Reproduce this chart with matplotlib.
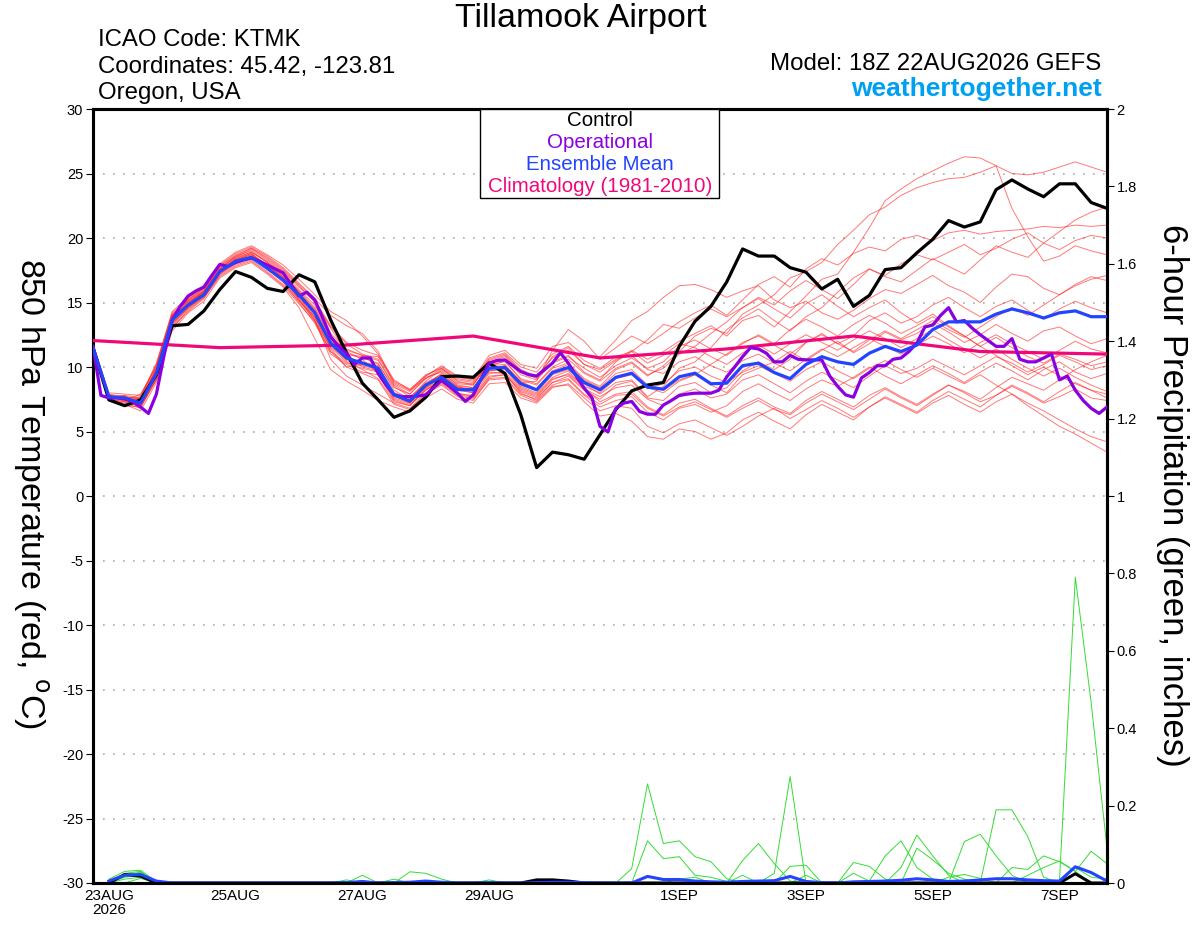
import numpy as np, matplotlib
matplotlib.use('Agg')
import matplotlib.pyplot as plt
from matplotlib.patches import Rectangle

plt.rcParams['font.family'] = ['Liberation Sans', 'DejaVu Sans']
plt.rcParams['axes.unicode_minus'] = False

RED = '#ff2020'
GREEN = '#33dd33'
BLACK = '#000000'
PURPLE = '#8a00e0'
BLUE = '#2244ff'
PINK = '#f0087a'
SITE = '#00a0f0'

# forecast hours (temperature every 6 h from 18Z 22AUG, precip accumulations from 6 h)
t_hours = np.arange(0, 385, 6)
p_hours = np.arange(6, 385, 6)
op_hours = np.arange(0, 385, 3)
clim_hours = [0, 48, 96, 144, 192, 240, 288, 336, 384]

tick_hours = [6, 54, 102, 150, 222, 270, 318, 366]
tick_labels = ['23AUG\n2026', '25AUG', '27AUG', '29AUG', '1SEP', '3SEP', '5SEP', '7SEP']

control = [11.5, 7.45, 7.0, 7.45, 9.4, 13.2, 13.3, 14.35, 16.0, 17.4, 16.95, 16.1, 15.85,
           17.15, 16.6, 13.65, 11.1, 8.75, 7.45, 6.1, 6.6, 7.65, 9.25, 9.3, 9.2, 10.3,
           9.5, 6.3, 2.2, 3.4, 3.2, 2.85, 4.75, 6.7, 8.15, 8.6, 8.8, 11.6, 13.55,
           14.7, 16.6, 19.15, 18.6, 18.6, 17.7, 17.35, 16.05, 16.8, 14.7, 15.55, 17.55, 17.7,
           18.85, 19.9, 21.35, 20.85, 21.25, 23.75, 24.5, 23.8, 23.2, 24.2, 24.2, 22.75, 22.3]

ens_mean = [11.5, 7.7, 7.6, 7.2, 9.5, 13.65, 14.8, 15.6, 17.4, 18.2, 18.5, 17.65, 16.75,
            15.6, 14.2, 11.85, 10.7, 10.3, 9.9, 7.85, 7.35, 8.6, 9.2, 8.25, 8.23, 9.9,
            9.96, 8.7, 8.23, 9.57, 9.96, 8.8, 8.23, 9.2, 9.52, 8.44, 8.28, 9.24, 9.52,
            8.7, 8.75, 10.1, 10.3, 9.57, 9.1, 10.2, 10.8, 10.4, 10.2, 11.07, 11.6, 11.2,
            11.7, 12.9, 13.5, 13.5, 13.5, 14.1, 14.5, 14.2, 13.8, 14.2, 14.35, 13.9, 13.9]

operational = [11.6, 7.8, 7.6, 7.6, 7.55, 7.3, 6.9, 6.4, 7.9, 11.0, 13.65, 14.7, 15.5,
               15.9, 16.2, 17.1, 17.95, 17.8, 18.1, 18.3, 18.45, 18.2, 17.9, 17.6, 17.3, 16.4,
               15.5, 15.8, 15.2, 13.8, 12.35, 11.6, 11.05, 10.2, 10.7, 10.7, 9.5, 8.6, 7.85,
               7.7, 7.7, 7.75, 7.84, 8.4, 8.95, 8.5, 7.97, 7.33, 7.84, 9.1, 10.3, 10.5,
               10.55, 10.1, 9.65, 9.4, 9.3, 9.8, 10.3, 11.1, 10.3, 9.3, 8.36, 7.6, 5.4,
               4.96, 6.8, 7.2, 7.33, 6.55, 6.34, 6.34, 7.05, 7.4, 7.79, 7.9, 7.97, 7.97,
               7.97, 8.2, 9.24, 10.0, 10.8, 11.5, 11.4, 11.07, 10.4, 10.4, 10.9, 10.6, 10.55,
               10.55, 10.55, 9.3, 8.5, 7.84, 7.66, 9.15, 9.57, 10.1, 10.1, 10.6, 10.7, 11.2,
               11.85, 13.1, 13.25, 14.0, 14.6, 13.5, 13.6, 13.0, 12.5, 12.05, 11.6, 11.6, 12.2,
               10.6, 10.4, 10.4, 10.7, 11.0, 9.0, 9.3, 8.2, 7.4, 6.8, 6.4, 6.9]

climatology = [12.05, 11.5, 11.7, 12.4, 10.7, 11.4, 12.4, 11.2, 11.0]

members = [
    [11.8, 7.9, 7.3, 7.6, 10.2, 14.2, 15.2, 16.1, 17.8, 18.7, 19.2, 18.4, 17.5,
     16.3, 15.0, 13.0, 11.2, 10.6, 9.5, 8.0, 7.6, 8.9, 9.8, 9.0, 8.8, 10.4,
     10.8, 9.6, 9.2, 10.8, 11.5, 10.2, 9.6, 10.5, 11.3, 10.6, 11.2, 12.0, 12.6,
     13.2, 12.4, 13.6, 14.0, 13.1, 14.3, 15.5, 16.8, 17.2, 18.9, 20.8, 22.9, 23.8,
     24.6, 25.2, 25.8, 26.3, 26.2, 25.6, 22.3, 20.1, 18.2, 18.6, 19.4, 19.0, 18.7],
    [11.3, 7.5, 7.8, 7.0, 9.0, 13.2, 14.5, 15.4, 17.2, 18.0, 18.4, 18.0, 17.0,
     15.2, 13.6, 11.5, 10.4, 9.8, 9.1, 7.3, 7.0, 8.2, 9.0, 8.2, 8.0, 10.0,
     10.5, 9.0, 8.6, 9.9, 10.3, 9.1, 8.5, 9.8, 10.3, 9.3, 10.1, 11.2, 12.4,
     13.0, 12.6, 14.1, 14.8, 15.6, 16.9, 17.4, 18.1, 19.5, 20.6, 21.8, 22.4, 23.3,
     23.9, 24.3, 24.6, 24.7, 25.1, 25.6, 25.0, 24.9, 25.1, 25.5, 25.9, 25.5, 25.1],
    [11.6, 7.6, 7.0, 7.3, 9.8, 13.9, 14.9, 15.9, 17.6, 18.6, 19.0, 18.1, 17.1,
     15.8, 14.5, 12.3, 11.0, 10.8, 10.2, 8.4, 7.9, 9.2, 9.6, 8.6, 8.4, 10.1,
     10.2, 8.8, 8.9, 11.3, 12.9, 12.0, 10.6, 11.5, 12.4, 11.8, 12.6, 13.5, 14.2,
     14.8, 14.0, 15.2, 16.4, 17.0, 16.2, 17.6, 18.4, 17.9, 18.8, 19.3, 19.0, 19.9,
     20.2, 19.8, 20.4, 20.6, 20.3, 20.5, 20.6, 20.7, 20.9, 20.8, 21.0, 20.9, 21.0],
    [11.4, 7.7, 7.7, 7.5, 9.3, 13.4, 14.6, 15.5, 17.3, 18.4, 18.9, 18.2, 17.3,
     16.0, 14.8, 12.6, 11.4, 10.9, 10.5, 8.5, 7.7, 8.7, 9.4, 8.5, 8.4, 9.7,
     9.9, 8.5, 8.0, 9.4, 9.8, 8.7, 7.9, 8.8, 9.0, 7.7, 8.5, 9.9, 10.4,
     11.5, 12.9, 13.8, 14.5, 13.6, 12.8, 13.9, 14.6, 15.8, 16.9, 17.6, 17.1, 18.0,
     18.7, 18.3, 18.9, 19.5, 18.7, 19.2, 19.9, 20.4, 19.6, 19.1, 19.8, 20.2, 20.0],
    [11.7, 7.8, 7.4, 7.9, 10.0, 14.0, 15.3, 16.2, 17.9, 18.8, 19.3, 18.6, 17.7,
     16.5, 15.3, 14.0, 13.2, 12.6, 11.2, 8.7, 8.1, 9.3, 10.1, 9.3, 9.1, 10.9,
     11.3, 10.2, 9.9, 11.6, 11.9, 10.9, 10.8, 12.1, 13.6, 14.3, 15.4, 16.3, 16.4,
     16.0, 15.4, 15.9, 16.3, 15.2, 14.6, 15.1, 14.2, 13.7, 14.4, 15.3, 16.0, 15.7,
     16.4, 17.1, 16.3, 15.8, 15.0, 16.2, 17.2, 17.0, 16.1, 15.6, 16.4, 17.0, 16.7],
    [11.2, 7.4, 7.2, 6.8, 9.1, 13.1, 14.3, 15.3, 17.1, 17.9, 18.3, 17.4, 16.4,
     15.1, 13.9, 11.4, 10.0, 10.2, 10.0, 7.8, 7.2, 8.4, 8.9, 7.9, 7.6, 9.2,
     9.4, 8.1, 7.6, 8.8, 9.3, 8.2, 7.5, 8.6, 8.9, 7.6, 7.4, 8.5, 8.8,
     8.0, 8.4, 9.7, 10.4, 9.8, 10.6, 11.9, 12.6, 11.8, 12.4, 13.6, 14.2, 13.4,
     13.9, 14.8, 15.4, 14.6, 13.9, 14.7, 15.2, 14.4, 13.7, 14.5, 15.1, 14.6, 14.2],
    [11.5, 7.6, 7.6, 7.1, 9.6, 13.7, 14.7, 15.7, 17.5, 18.3, 18.7, 17.9, 16.8,
     15.4, 13.8, 11.6, 10.6, 10.4, 10.1, 7.7, 7.3, 8.5, 9.3, 8.4, 8.3, 9.8,
     10.1, 8.9, 8.3, 9.7, 10.2, 9.0, 8.4, 9.5, 9.8, 8.6, 8.2, 9.0, 9.4,
     8.6, 8.0, 9.4, 9.9, 10.4, 11.2, 10.5, 11.3, 12.0, 11.1, 11.8, 12.7, 12.1,
     12.6, 13.4, 12.7, 11.9, 12.5, 13.3, 12.6, 12.0, 12.8, 13.1, 12.4, 11.8, 12.2],
    [11.4, 7.5, 7.3, 7.0, 9.4, 13.6, 14.9, 15.8, 17.3, 18.1, 18.5, 17.6, 16.6,
     15.0, 13.4, 11.0, 10.2, 9.6, 9.4, 7.4, 7.0, 8.3, 8.8, 7.9, 7.8, 9.5,
     9.6, 8.3, 7.8, 9.1, 9.4, 8.3, 7.7, 8.4, 8.6, 7.5, 7.0, 7.9, 8.3,
     7.6, 7.9, 9.0, 9.4, 8.7, 8.0, 8.9, 9.6, 9.0, 8.4, 9.3, 10.1, 9.5,
     9.9, 10.6, 10.0, 9.4, 10.1, 10.8, 10.3, 9.6, 10.2, 10.9, 10.4, 9.8, 10.1],
    [11.6, 7.7, 7.4, 7.4, 9.9, 13.8, 15.0, 15.8, 17.6, 18.4, 18.8, 17.7, 16.8,
     15.5, 13.9, 11.8, 10.9, 10.0, 9.7, 7.6, 7.2, 8.4, 9.1, 8.3, 8.0, 9.7,
     9.8, 8.4, 7.9, 9.2, 9.7, 8.4, 7.3, 7.9, 8.1, 6.9, 6.3, 7.2, 7.5,
     6.8, 6.2, 7.0, 7.6, 6.9, 6.4, 7.4, 8.1, 7.5, 6.9, 7.8, 8.4, 7.7,
     7.1, 7.9, 8.6, 8.0, 7.3, 7.8, 8.5, 7.9, 7.2, 7.7, 8.3, 7.6, 7.4],
    [11.3, 7.6, 7.1, 6.6, 8.8, 12.8, 14.2, 15.1, 16.9, 17.7, 18.1, 17.2, 16.2,
     14.6, 12.2, 9.8, 8.9, 8.2, 7.4, 6.9, 6.5, 7.6, 8.3, 7.5, 7.2, 8.7,
     8.8, 7.6, 7.2, 8.4, 8.7, 7.6, 6.6, 7.0, 6.8, 5.4, 4.9, 5.6, 5.9,
     5.3, 4.7, 5.4, 6.2, 6.8, 6.0, 6.7, 7.4, 6.8, 6.1, 6.9, 7.6, 7.0,
     6.4, 7.2, 7.8, 7.1, 6.5, 7.3, 7.9, 7.0, 6.2, 5.4, 4.8, 4.1, 3.4],
    [11.5, 7.8, 7.5, 7.2, 9.7, 13.9, 15.1, 15.9, 17.5, 18.2, 18.6, 17.8, 16.9,
     15.7, 14.4, 12.1, 11.0, 10.7, 10.3, 8.2, 7.5, 8.8, 9.4, 8.5, 8.1, 9.6,
     9.5, 8.0, 7.4, 8.6, 9.0, 7.8, 6.9, 7.4, 7.7, 6.5, 5.9, 6.8, 7.1,
     6.5, 7.0, 8.1, 8.7, 8.0, 7.4, 8.3, 9.0, 8.5, 9.2, 10.0, 9.3, 8.7,
     9.4, 10.1, 9.5, 8.8, 9.6, 10.3, 9.7, 9.0, 9.8, 10.4, 9.6, 9.1, 9.5],
    [11.8, 8.0, 7.9, 7.8, 10.1, 14.1, 15.1, 16.0, 17.7, 18.5, 19.1, 18.3, 17.4,
     16.2, 15.1, 13.1, 11.8, 11.0, 10.6, 8.6, 7.9, 9.1, 9.9, 9.1, 8.9, 10.6,
     11.0, 9.8, 9.3, 10.7, 11.3, 10.2, 9.8, 10.6, 10.9, 9.8, 9.5, 10.4, 10.8,
     10.1, 9.6, 10.5, 11.0, 10.3, 9.7, 10.6, 11.4, 10.8, 11.5, 12.2, 11.6, 11.0,
     11.7, 12.4, 11.8, 11.1, 11.9, 12.5, 11.8, 11.2, 10.6, 11.3, 12.0, 11.4, 11.1],
    [11.4, 7.4, 7.0, 6.9, 9.2, 13.3, 14.6, 15.6, 17.4, 18.3, 18.8, 17.9, 17.0,
     15.9, 14.6, 12.4, 11.3, 10.9, 10.8, 8.8, 8.2, 9.4, 9.9, 8.9, 8.6, 10.3,
     10.6, 9.4, 9.0, 10.3, 10.8, 9.9, 9.2, 10.1, 10.7, 9.9, 10.4, 11.6, 12.1,
     11.4, 10.9, 11.8, 12.5, 11.8, 12.9, 13.7, 13.1, 12.4, 13.3, 14.0, 13.4, 12.6,
     13.2, 13.9, 13.1, 12.4, 11.6, 10.9, 10.1, 9.4, 10.0, 9.3, 8.7, 8.2, 7.9],
    [11.6, 7.7, 7.6, 7.3, 9.5, 13.5, 14.8, 15.6, 17.2, 18.1, 18.6, 17.7, 16.7,
     15.3, 13.7, 10.6, 9.3, 8.6, 7.9, 7.2, 6.8, 8.0, 8.7, 7.8, 7.5, 9.0,
     9.1, 7.8, 7.3, 8.5, 8.6, 7.3, 6.2, 6.4, 5.8, 4.6, 4.4, 5.2, 5.0,
     4.4, 4.9, 5.9, 6.5, 5.8, 5.2, 6.3, 7.1, 6.5, 5.9, 6.9, 7.7, 7.1,
     6.5, 7.4, 8.1, 7.5, 6.9, 7.8, 8.6, 8.0, 7.3, 8.1, 8.8, 8.2, 7.6],
    [11.7, 7.9, 7.7, 7.5, 9.8, 13.8, 15.0, 15.9, 17.6, 18.5, 18.9, 18.1, 17.2,
     15.8, 14.3, 12.0, 10.8, 10.3, 9.8, 7.9, 7.4, 8.6, 9.5, 8.7, 8.6, 10.5,
     10.9, 9.7, 9.1, 10.4, 10.9, 9.6, 9.0, 10.4, 11.2, 12.1, 13.3, 13.0, 13.8,
     14.5, 13.9, 14.6, 15.3, 14.5, 13.8, 14.9, 15.6, 14.7, 13.9, 14.6, 15.2, 14.2,
     13.4, 14.1, 13.2, 12.4, 11.6, 12.3, 11.5, 10.8, 10.3, 11.0, 10.6, 10.1, 10.4],
    [11.5, 7.6, 7.5, 7.7, 10.3, 14.3, 15.4, 16.3, 18.0, 18.9, 19.4, 18.7, 17.9,
     16.8, 15.6, 14.3, 13.6, 12.4, 11.0, 9.0, 8.2, 9.1, 9.7, 8.8, 8.7, 10.2,
     10.4, 9.1, 8.7, 10.0, 10.6, 9.5, 8.9, 9.9, 10.4, 9.4, 9.9, 11.0, 11.6,
     12.6, 13.5, 14.6, 15.4, 14.8, 15.9, 16.7, 16.0, 15.3, 16.4, 17.6, 17.0, 16.6,
     17.5, 18.4, 17.8, 17.2, 18.3, 19.4, 18.9, 18.5, 19.6, 20.5, 21.4, 22.0, 22.4],
    [11.3, 7.5, 7.3, 6.9, 9.0, 13.0, 14.4, 15.4, 17.0, 17.8, 18.2, 17.3, 16.3,
     14.9, 13.5, 11.2, 10.3, 9.9, 9.6, 7.5, 7.1, 8.2, 8.9, 8.0, 7.7, 9.3,
     9.4, 8.2, 7.7, 9.0, 9.5, 8.5, 8.0, 9.1, 9.4, 8.3, 8.7, 9.7, 10.0,
     9.3, 8.8, 9.6, 10.1, 9.5, 8.9, 9.8, 10.4, 9.7, 9.1, 9.9, 10.5, 9.8,
     9.2, 9.9, 9.3, 8.7, 9.4, 8.6, 7.9, 7.2, 6.6, 5.9, 5.2, 4.6, 4.2],
    [11.6, 7.8, 7.6, 7.4, 9.6, 13.6, 14.8, 15.8, 17.5, 18.3, 18.7, 17.9, 16.9,
     15.6, 14.1, 11.7, 10.5, 10.1, 9.8, 7.8, 7.3, 8.5, 9.2, 8.4, 8.3, 9.9,
     10.1, 8.8, 8.2, 9.5, 10.0, 8.9, 8.3, 9.2, 9.5, 8.4, 8.0, 8.9, 9.4,
     10.2, 11.0, 11.9, 12.4, 11.7, 11.0, 11.9, 12.5, 11.8, 11.2, 12.1, 12.8, 12.2,
     12.9, 13.6, 12.9, 12.3, 13.1, 13.9, 14.6, 14.0, 14.8, 15.6, 16.3, 16.8, 17.1],
    [11.4, 7.6, 7.4, 7.1, 9.3, 13.4, 14.6, 15.5, 17.3, 18.1, 18.5, 17.6, 16.6,
     15.2, 13.6, 11.2, 10.0, 9.5, 9.0, 7.1, 6.7, 7.9, 8.6, 7.7, 7.4, 9.1,
     9.2, 7.9, 7.5, 8.8, 9.1, 7.9, 7.1, 7.8, 7.9, 6.8, 6.2, 6.9, 7.3,
     6.7, 6.1, 6.8, 7.4, 6.7, 6.3, 7.2, 7.9, 7.3, 6.7, 7.5, 8.3, 7.6,
     7.0, 7.8, 8.6, 8.1, 7.5, 8.4, 9.2, 8.7, 8.2, 9.0, 9.8, 10.4, 10.9],
    [11.5, 7.7, 7.8, 7.6, 9.9, 14.0, 15.2, 16.1, 17.8, 18.6, 19.2, 18.5, 17.6,
     16.4, 15.2, 13.2, 11.9, 11.3, 10.9, 8.9, 8.3, 9.3, 10.0, 9.2, 9.0, 10.7,
     11.1, 10.0, 9.6, 11.0, 11.6, 10.5, 9.9, 10.8, 11.2, 10.3, 10.9, 11.8, 11.5,
     10.8, 10.2, 11.1, 11.7, 11.0, 11.8, 12.5, 11.9, 11.3, 12.1, 12.8, 12.2, 11.5,
     12.2, 12.9, 12.1, 11.4, 10.7, 11.4, 10.6, 9.9, 9.3, 9.9, 9.2, 8.6, 8.1],
]

# 6-hour precipitation (inches), members
precip_members = [
    [0.01, 0.03, 0.033, 0.004, 0, 0, 0, 0, 0, 0, 0, 0, 0, 0, 0, 0,
     0, 0, 0, 0, 0, 0, 0, 0, 0, 0, 0, 0, 0, 0, 0, 0,
     0, 0.037, 0.256, 0.102, 0.109, 0.068, 0.055, 0.011, 0, 0, 0, 0, 0, 0, 0, 0,
     0, 0, 0, 0, 0, 0, 0, 0, 0, 0, 0, 0, 0, 0, 0, 0],
    [0, 0.025, 0.03, 0, 0, 0, 0, 0, 0, 0, 0, 0, 0, 0, 0, 0,
     0.02, 0, 0, 0, 0, 0, 0, 0, 0, 0, 0, 0, 0, 0, 0, 0,
     0, 0, 0.109, 0.063, 0.068, 0.02, 0.015, 0.004, 0, 0, 0, 0, 0, 0, 0, 0,
     0, 0, 0, 0, 0, 0, 0, 0, 0, 0, 0, 0, 0, 0, 0, 0],
    [0, 0.02, 0.028, 0, 0, 0, 0, 0, 0, 0, 0, 0, 0, 0, 0, 0,
     0, 0, 0, 0.029, 0.025, 0.01, 0, 0, 0, 0, 0, 0, 0, 0, 0, 0,
     0, 0, 0, 0, 0, 0, 0, 0, 0.058, 0.102, 0.05, 0.005, 0, 0, 0, 0,
     0, 0, 0, 0, 0, 0, 0, 0, 0, 0, 0, 0, 0, 0, 0, 0],
    [0, 0.015, 0.02, 0, 0, 0, 0, 0, 0, 0, 0, 0, 0, 0, 0, 0,
     0, 0, 0, 0, 0, 0, 0, 0, 0, 0, 0, 0, 0, 0, 0, 0,
     0, 0, 0, 0, 0, 0, 0, 0, 0, 0, 0.025, 0.275, 0, 0, 0, 0,
     0, 0, 0, 0, 0, 0, 0, 0, 0, 0, 0, 0, 0, 0, 0, 0],
    [0, 0, 0.012, 0, 0, 0, 0, 0, 0, 0, 0, 0, 0, 0, 0, 0,
     0, 0, 0, 0, 0, 0, 0, 0, 0, 0, 0, 0, 0, 0, 0, 0,
     0, 0, 0, 0, 0, 0, 0, 0, 0, 0, 0, 0.043, 0.046, 0, 0, 0,
     0, 0, 0, 0, 0, 0, 0, 0, 0, 0, 0, 0, 0, 0, 0, 0],
    [0, 0.01, 0.015, 0, 0, 0, 0, 0, 0, 0, 0, 0, 0, 0, 0, 0,
     0, 0, 0, 0, 0, 0, 0, 0, 0, 0, 0, 0, 0, 0, 0, 0,
     0, 0, 0, 0, 0, 0, 0, 0, 0.02, 0, 0, 0, 0, 0, 0, 0.053,
     0.043, 0.01, 0, 0, 0, 0, 0, 0, 0, 0, 0, 0, 0, 0, 0, 0],
    [0, 0, 0, 0, 0, 0, 0, 0, 0, 0, 0, 0, 0, 0, 0, 0,
     0, 0, 0, 0, 0, 0, 0, 0, 0, 0, 0, 0, 0, 0, 0, 0,
     0, 0, 0, 0, 0, 0, 0, 0, 0, 0, 0, 0, 0, 0, 0, 0.025,
     0.005, 0.07, 0.109, 0.04, 0.01, 0, 0, 0, 0, 0, 0, 0, 0, 0, 0, 0],
    [0, 0, 0, 0, 0, 0, 0, 0, 0, 0, 0, 0, 0, 0, 0, 0.008,
     0, 0, 0.01, 0, 0, 0, 0, 0, 0, 0, 0, 0, 0, 0, 0, 0,
     0, 0, 0, 0, 0, 0, 0, 0, 0, 0, 0, 0, 0, 0, 0, 0,
     0, 0, 0.04, 0.124, 0.07, 0.02, 0, 0, 0, 0, 0, 0, 0, 0, 0, 0],
    [0, 0, 0, 0, 0, 0, 0, 0, 0, 0, 0, 0, 0, 0, 0, 0,
     0, 0, 0, 0, 0, 0, 0, 0, 0.008, 0, 0, 0, 0, 0, 0, 0,
     0, 0, 0, 0, 0, 0, 0, 0, 0, 0, 0, 0, 0, 0, 0, 0,
     0, 0, 0, 0.09, 0.06, 0.025, 0.01, 0, 0, 0, 0, 0, 0, 0, 0, 0],
    [0, 0, 0, 0, 0, 0, 0, 0, 0, 0, 0, 0, 0, 0, 0, 0,
     0, 0, 0, 0, 0, 0, 0, 0, 0, 0, 0, 0, 0, 0, 0, 0,
     0, 0, 0, 0, 0, 0, 0, 0, 0, 0, 0, 0, 0, 0, 0, 0,
     0, 0, 0, 0, 0, 0, 0.107, 0.126, 0.07, 0.02, 0, 0, 0, 0, 0, 0],
    [0, 0, 0, 0, 0, 0, 0, 0, 0, 0, 0, 0, 0, 0, 0, 0,
     0, 0, 0, 0, 0, 0, 0, 0, 0, 0, 0, 0, 0, 0, 0, 0,
     0, 0, 0, 0, 0, 0, 0, 0, 0, 0, 0, 0, 0, 0, 0, 0,
     0, 0, 0, 0, 0, 0, 0, 0, 0.189, 0.189, 0.12, 0.015, 0, 0, 0, 0],
    [0, 0, 0, 0, 0, 0, 0, 0, 0, 0, 0, 0, 0, 0, 0, 0,
     0, 0, 0, 0, 0, 0, 0, 0, 0, 0, 0, 0, 0, 0, 0, 0,
     0, 0, 0, 0, 0, 0, 0, 0, 0, 0, 0, 0, 0, 0, 0, 0,
     0, 0, 0, 0, 0, 0, 0, 0, 0, 0.04, 0.035, 0.07, 0.055, 0.03, 0, 0],
    [0, 0, 0, 0, 0, 0, 0, 0, 0, 0, 0, 0, 0, 0, 0, 0,
     0, 0, 0, 0, 0, 0, 0, 0, 0, 0, 0, 0, 0, 0, 0, 0,
     0, 0, 0, 0, 0, 0, 0, 0, 0, 0, 0, 0, 0, 0, 0, 0,
     0, 0, 0, 0, 0, 0, 0, 0, 0, 0, 0.02, 0.04, 0.057, 0.03, 0.082, 0.05],
    [0, 0, 0, 0, 0, 0, 0, 0, 0, 0, 0, 0, 0, 0, 0, 0,
     0, 0, 0, 0, 0, 0, 0, 0, 0, 0, 0, 0, 0, 0, 0, 0,
     0, 0, 0, 0, 0, 0, 0, 0, 0, 0, 0, 0, 0, 0, 0, 0,
     0, 0, 0, 0, 0, 0, 0, 0, 0, 0, 0, 0, 0.005, 0.79, 0.466, 0.09],
    [0, 0, 0, 0, 0, 0, 0, 0, 0, 0, 0, 0, 0, 0, 0, 0,
     0, 0, 0, 0, 0, 0, 0, 0, 0, 0, 0, 0.006, 0.01, 0, 0, 0,
     0, 0, 0, 0, 0, 0, 0, 0, 0, 0, 0, 0, 0, 0, 0, 0,
     0, 0, 0, 0, 0, 0, 0, 0, 0, 0, 0, 0, 0, 0.04, 0.015, 0.01],
    [0, 0, 0, 0, 0, 0, 0, 0, 0, 0, 0, 0, 0, 0, 0, 0,
     0, 0, 0, 0, 0, 0, 0, 0, 0, 0, 0, 0, 0, 0, 0, 0,
     0, 0, 0, 0, 0.01, 0.015, 0, 0, 0, 0, 0, 0, 0.02, 0, 0, 0,
     0, 0, 0, 0, 0, 0.015, 0.022, 0.012, 0, 0, 0, 0, 0, 0, 0, 0],
]

precip_mean = [0.005, 0.02, 0.022, 0.005, 0, 0, 0, 0, 0, 0, 0, 0, 0, 0, 0, 0.001,
               0.004, 0, 0.001, 0.002, 0.005, 0.002, 0, 0, 0.001, 0, 0, 0.001, 0.002, 0.002, 0.001, 0,
               0, 0, 0.017, 0.009, 0.009, 0.005, 0.003, 0.002, 0.004, 0.005, 0.006, 0.017, 0.004, 0.001, 0, 0.003,
               0.004, 0.005, 0.007, 0.011, 0.008, 0.004, 0.005, 0.008, 0.011, 0.011, 0.008, 0.006, 0.005, 0.042, 0.027, 0.005]

precip_control = [0, 0.022, 0.018, 0, 0, 0, 0, 0, 0, 0, 0, 0, 0, 0, 0, 0,
                  0, 0, 0, 0, 0, 0, 0, 0, 0, 0, 0, 0.008, 0.008, 0.005, 0, 0,
                  0, 0, 0, 0, 0, 0, 0, 0, 0, 0, 0, 0, 0, 0, 0, 0,
                  0, 0, 0, 0, 0, 0, 0, 0, 0, 0, 0, 0, 0, 0.024, 0, 0]

fig = plt.figure(figsize=(12, 9.27), dpi=100)
ax = fig.add_axes([93 / 1200, 1 - 883 / 927, 1014 / 1200, 774 / 927])
ax2 = ax.twinx()

for t in range(-25, 30, 5):
    ax.axhline(t, color='#aaaaaa', lw=1.2, ls=(0, (1, 5)), zorder=1)

for m in members:
    ax.plot(t_hours, m, color=RED, lw=0.7, alpha=0.6, zorder=2)

for p in precip_members:
    ax2.plot(p_hours, p, color=GREEN, lw=0.7, zorder=2)
ax2.plot(p_hours, precip_control, color=BLACK, lw=2.2, zorder=3)
ax2.plot(p_hours, precip_mean, color=BLUE, lw=2.2, zorder=4)

ax.plot(clim_hours, climatology, color=PINK, lw=2.3, zorder=3)
ax.plot(t_hours, control, color=BLACK, lw=2.3, zorder=4)
ax.plot(op_hours, operational, color=PURPLE, lw=2.3, zorder=5)
ax.plot(t_hours, ens_mean, color=BLUE, lw=2.3, zorder=6)

# temperature lines sit above the precip axes
ax.set_zorder(ax2.get_zorder() + 1)
ax.patch.set_visible(False)

ax.set_xlim(0, 384)
ax.set_ylim(-30, 30)
ax2.set_ylim(0, 2)
ax.set_yticks(range(-30, 31, 5))
ax2.set_yticks(np.arange(0, 2.01, 0.2))
ax2.set_yticklabels(['0', '0.2', '0.4', '0.6', '0.8', '1', '1.2', '1.4', '1.6', '1.8', '2'])
ax.set_xticks(tick_hours)
ax.set_xticklabels(tick_labels, fontsize=11, linespacing=1.05)
ax.tick_params(axis='x', length=0, pad=4)
ax.tick_params(axis='y', labelsize=10.5, length=5, width=0.8, pad=2, direction='out')
ax2.tick_params(axis='y', labelsize=10.5, length=5, width=0.8, pad=2, direction='out')
for a in (ax, ax2):
    for s in a.spines.values():
        s.set_linewidth(2.2)

# legend box
lg = Rectangle((480 / 1200, 1 - 198 / 927), 239 / 1200, 89 / 927, transform=fig.transFigure,
               facecolor='white', edgecolor='black', lw=1.0, zorder=10)
fig.add_artist(lg)
for yy, txt, col in [(121, 'Control', BLACK), (142, 'Operational', PURPLE),
                     (164, 'Ensemble Mean', BLUE), (186, 'Climatology (1981-2010)', PINK)]:
    fig.text(600 / 1200, 1 - yy / 927, txt, color=col, ha='center', va='center', fontsize=14.8, zorder=11)

fig.text(581 / 1200, 1 - 18 / 927, 'Tillamook Airport', ha='center', va='center', fontsize=24.5)
fig.text(98 / 1200, 1 - 40 / 927, 'ICAO Code: KTMK', ha='left', va='center', fontsize=17.3)
fig.text(98 / 1200, 1 - 67 / 927, 'Coordinates: 45.42, -123.81', ha='left', va='center', fontsize=17.3)
fig.text(98 / 1200, 1 - 93 / 927, 'Oregon, USA', ha='left', va='center', fontsize=17.3)
fig.text(1101 / 1200, 1 - 64 / 927, 'Model: 18Z 22AUG2026 GEFS', ha='right', va='center', fontsize=17.3)
fig.text(1102 / 1200, 1 - 89 / 927, 'weathertogether.net', ha='right', va='center', fontsize=19,
         fontweight='bold', color=SITE)

fig.text(30 / 1200, 1 - 494 / 927, r'850 hPa Temperature (red, $^{\rm o}$C)', rotation=-90,
         ha='center', va='center', fontsize=24.5)
fig.text(1172 / 1200, 1 - 495 / 927, '6-hour Precipitation (green, inches)', rotation=-90,
         ha='center', va='center', fontsize=25)

fig.savefig('out.png', dpi=100)
print('ok')
